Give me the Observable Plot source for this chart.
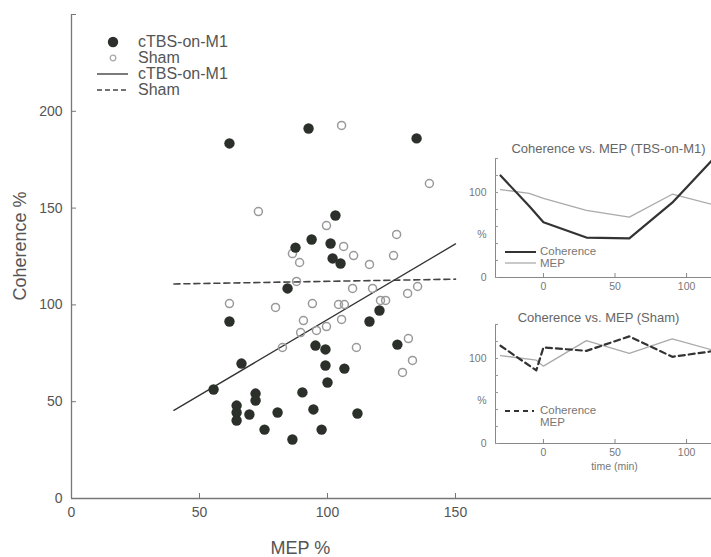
<!DOCTYPE html>
<html><head><meta charset="utf-8">
<script src="https://cdn.jsdelivr.net/npm/d3@7"></script>
<script src="https://cdn.jsdelivr.net/npm/@observablehq/plot@0.6"></script>
<style>
html,body{margin:0;padding:0;background:#fff;}
body{width:711px;height:557px;overflow:hidden;position:relative;font-family:"Liberation Sans",Arial,sans-serif;}
.abs{position:absolute;}
.lg{position:absolute;white-space:nowrap;transform:translateY(-50%);line-height:1;}
svg.sw{position:absolute;overflow:visible;}
</style></head><body>
<div id="main" class="abs" style="left:0;top:0"></div>
<div id="inset1" class="abs" style="left:455px;top:140px"></div>
<div id="inset2" class="abs" style="left:455px;top:306px"></div>
<div id="legends"></div>
<script>
// ---- main scatter data (MEP %, Coherence %) ----
const tbsMEP = [61.7, 92.6, 134.8, 103.1, 93.8, 87.5, 101.2, 102.0, 105.1, 84.4, 61.7, 95.3, 99.2, 99.2, 66.4, 55.5, 71.9, 71.9, 64.5, 64.5, 64.5, 69.5, 75.4, 80.5, 86.3, 90.2, 94.5, 97.7, 100.0, 106.6, 111.7, 116.4, 120.3, 127.3];
const tbsCoh = [183.4, 191.1, 186.0, 146.2, 133.8, 129.6, 131.7, 124.0, 121.4, 108.5, 91.4, 79.0, 77.0, 68.7, 69.7, 56.3, 54.2, 50.6, 48.0, 44.4, 40.3, 43.4, 35.6, 44.4, 30.5, 54.8, 46.0, 35.6, 59.9, 67.1, 43.9, 91.4, 97.1, 79.5];
const shamMEP = [73.0, 99.6, 105.5, 139.8, 106.3, 110.2, 127.0, 125.8, 86.3, 89.1, 87.9, 61.7, 79.7, 94.1, 104.3, 106.6, 90.6, 89.5, 95.7, 99.6, 82.4, 116.4, 109.8, 117.6, 135.2, 131.3, 120.7, 122.7, 105.5, 111.3, 131.6, 133.2, 129.3];
const shamCoh = [148.2, 141.0, 192.7, 162.7, 130.2, 125.5, 136.4, 125.5, 126.5, 121.9, 112.1, 100.7, 98.7, 100.7, 100.2, 100.2, 91.9, 85.7, 86.8, 88.8, 78.0, 120.9, 108.5, 108.5, 109.5, 105.9, 102.3, 102.3, 92.5, 78.0, 82.6, 71.3, 65.1];
// regression lines (endpoints)
const fitMEP = [40, 150];
const fitTbsCoh = [45.5, 131.5];
const fitShamCoh = [110.8, 113.3];
// ticks
const mainXTicks = [0, 50, 100, 150];
const mainYTickMarks = [0, 50, 100, 150, 200, 250];
const mainYTickLabels = [0, 50, 100, 150, 200];

// ---- inset data: % vs time (min) ----
const timeTbs = [-30, -10, 0, 30, 60, 90, 120];
const cohTbs = [120, 84, 65, 47, 46, 88, 142];
const mepTbs = [103.5, 99, 93, 79, 71, 98, 85];
const timeSham = [-30, -5, 0, 30, 60, 90, 120];
const cohSham = [115, 86, 113, 109, 126, 102, 109];
const mepSham = [103.5, 98, 91, 121, 106, 123, 109];
const insetXTicks = [0, 50, 100];
const insetYTickMarks = [0, 20, 40, 60, 80, 100, 120, 140];
const insetYLabels = [0, 50, 100];

const FONT = '"Liberation Sans", Arial, sans-serif';
const dark = "#2b302b";

const tbsPts = tbsMEP.map((m, i) => ({m, c: tbsCoh[i]}));
const shamPts = shamMEP.map((m, i) => ({m, c: shamCoh[i]}));
const fitTbs = fitMEP.map((m, i) => ({m, c: fitTbsCoh[i]}));
const fitSham = fitMEP.map((m, i) => ({m, c: fitShamCoh[i]}));

const fw = 711 - 71, fh = 498 - 14;
const main = Plot.plot({
  width: 711, height: 557,
  marginLeft: 71, marginRight: 0, marginTop: 14, marginBottom: 59,
  x: {domain: [0, 250]}, y: {domain: [0, 250]},
  style: {fontFamily: FONT, fontSize: "14px", color: "#555", background: "transparent", maxWidth: "none"},
  marks: [
    Plot.ruleX([0], {stroke: "#777", strokeWidth: 1.3}),
    Plot.ruleY([0], {stroke: "#777", strokeWidth: 1.3}),
    Plot.ruleX(mainXTicks, {stroke: "#777", insetTop: fh - 5}),
    Plot.ruleY(mainYTickMarks, {stroke: "#777", insetRight: fw - 5}),
    Plot.axisX(mainXTicks, {tickSize: 0, tickPadding: 9, label: null, fontSize: 14}),
    Plot.axisY(mainYTickLabels, {tickSize: 0, tickPadding: 9, label: null, fontSize: 14}),
    Plot.text(["Coherence %"], {frameAnchor: "left", rotate: -90, dx: -51, dy: 44, fontSize: 18, fill: "#555"}),
    Plot.text(["MEP %"], {frameAnchor: "bottom-left", lineAnchor: "middle", dx: 199, dy: 50, fontSize: 18, fill: "#555"}),
    Plot.line(fitSham, {x: "m", y: "c", stroke: "#444", strokeWidth: 1.6, strokeDasharray: "6,4"}),
    Plot.line(fitTbs, {x: "m", y: "c", stroke: "#333", strokeWidth: 1.3}),
    Plot.dot(shamPts, {x: "m", y: "c", r: 4, stroke: "#999", strokeWidth: 1.5, fill: "none"}),
    Plot.dot(tbsPts, {x: "m", y: "c", r: 5.2, fill: dark, stroke: "none"})
  ]
});
document.getElementById("main").appendChild(main);

function inset(times, coh, mep, dashed, title, titleDx, titleDy, height, mb, timeLabel) {
  const iw = 234, ih = 119;
  const rows = times.map((t, i) => ({t, coh: coh[i], mep: mep[i]}));
  const marks = [
    Plot.ruleX([-33.5], {stroke: "#888"}),
    Plot.ruleY([0], {stroke: "#888"}),
    Plot.ruleX(insetXTicks, {stroke: "#888", insetTop: ih - 4}),
    Plot.ruleY(insetYTickMarks, {stroke: "#999", insetRight: iw - 3}),
    Plot.axisX(insetXTicks, {tickSize: 0, tickPadding: 5, label: null, fontSize: 10.5}),
    Plot.axisY(insetYLabels, {tickSize: 0, tickPadding: 9, label: null, fontSize: 10.5, tickFormat: d => d === 50 ? "%" : String(d)}),
    Plot.text([title], {frameAnchor: "top", lineAnchor: "middle", dx: titleDx, dy: titleDy, fontSize: 13, fill: "#666"}),
    Plot.line(rows, {x: "t", y: "mep", stroke: "#aaa", strokeWidth: 1.3}),
    Plot.line(rows, {x: "t", y: "coh", stroke: "#333", strokeWidth: 2.2, strokeDasharray: dashed ? "6,4" : null})
  ];
  if (timeLabel) marks.push(Plot.text([timeLabel], {frameAnchor: "bottom", lineAnchor: "middle", dx: 2, dy: 23, fontSize: 10.5, fill: "#777"}));
  return Plot.plot({
    width: 274, height,
    marginLeft: 40, marginRight: 0, marginTop: 18, marginBottom: mb,
    x: {domain: [-33.5, 130]}, y: {domain: [0, 140]},
    style: {fontFamily: FONT, fontSize: "10.5px", color: "#777", background: "transparent", maxWidth: "none", overflow: "visible"},
    marks
  });
}
document.getElementById("inset1").appendChild(inset(timeTbs, cohTbs, mepTbs, false, "Coherence vs. MEP (TBS-on-M1)", -4, -10, 157, 20, null));
document.getElementById("inset2").appendChild(inset(timeSham, cohSham, mepSham, true, "Coherence vs. MEP (Sham)", -14, -7, 172, 35, "time (min)"));

// ---- legends (HTML) ----
const L = document.getElementById("legends");
function label(txt, x, y, size, color) {
  const d = document.createElement("div");
  d.className = "lg"; d.textContent = txt;
  d.style.left = x + "px"; d.style.top = y + "px"; d.style.fontSize = size + "px"; d.style.color = color;
  L.appendChild(d);
}
function swatch(inner, x, y, w, h) {
  const ns = "http://www.w3.org/2000/svg";
  const s = document.createElementNS(ns, "svg");
  s.setAttribute("class", "sw"); s.setAttribute("width", w); s.setAttribute("height", h);
  s.style.left = x + "px"; s.style.top = y + "px";
  s.innerHTML = inner; L.appendChild(s);
}
// main legend
swatch(`<circle cx="6" cy="6" r="5.2" fill="${dark}"/>`, 107, 36, 12, 12);
label("cTBS-on-M1", 138, 42, 16, "#555");
swatch(`<circle cx="6" cy="6" r="2.8" fill="none" stroke="#aaa" stroke-width="1.3"/>`, 107, 52, 12, 12);
label("Sham", 138, 58, 16, "#555");
swatch(`<line x1="0" y1="2" x2="31" y2="2" stroke="#333" stroke-width="1.3"/>`, 97, 72, 32, 4);
label("cTBS-on-M1", 138, 74, 16, "#555");
swatch(`<line x1="0" y1="2" x2="31" y2="2" stroke="#444" stroke-width="1.6" stroke-dasharray="5,3"/>`, 97, 88, 32, 4);
label("Sham", 138, 90, 16, "#555");
// inset legends
swatch(`<line x1="0" y1="2" x2="31" y2="2" stroke="#333" stroke-width="2"/>`, 505, 250, 32, 4);
label("Coherence", 540, 252, 11.5, "#777");
swatch(`<line x1="0" y1="2" x2="31" y2="2" stroke="#aaa" stroke-width="1.3"/>`, 505, 261, 32, 4);
label("MEP", 540, 264, 11.5, "#777");
swatch(`<line x1="0" y1="2" x2="29" y2="2" stroke="#333" stroke-width="2" stroke-dasharray="5,4"/>`, 505, 409, 30, 4);
label("Coherence", 540, 411, 11.5, "#777");
label("MEP", 540, 423, 11.5, "#777");
</script>
</body></html>
